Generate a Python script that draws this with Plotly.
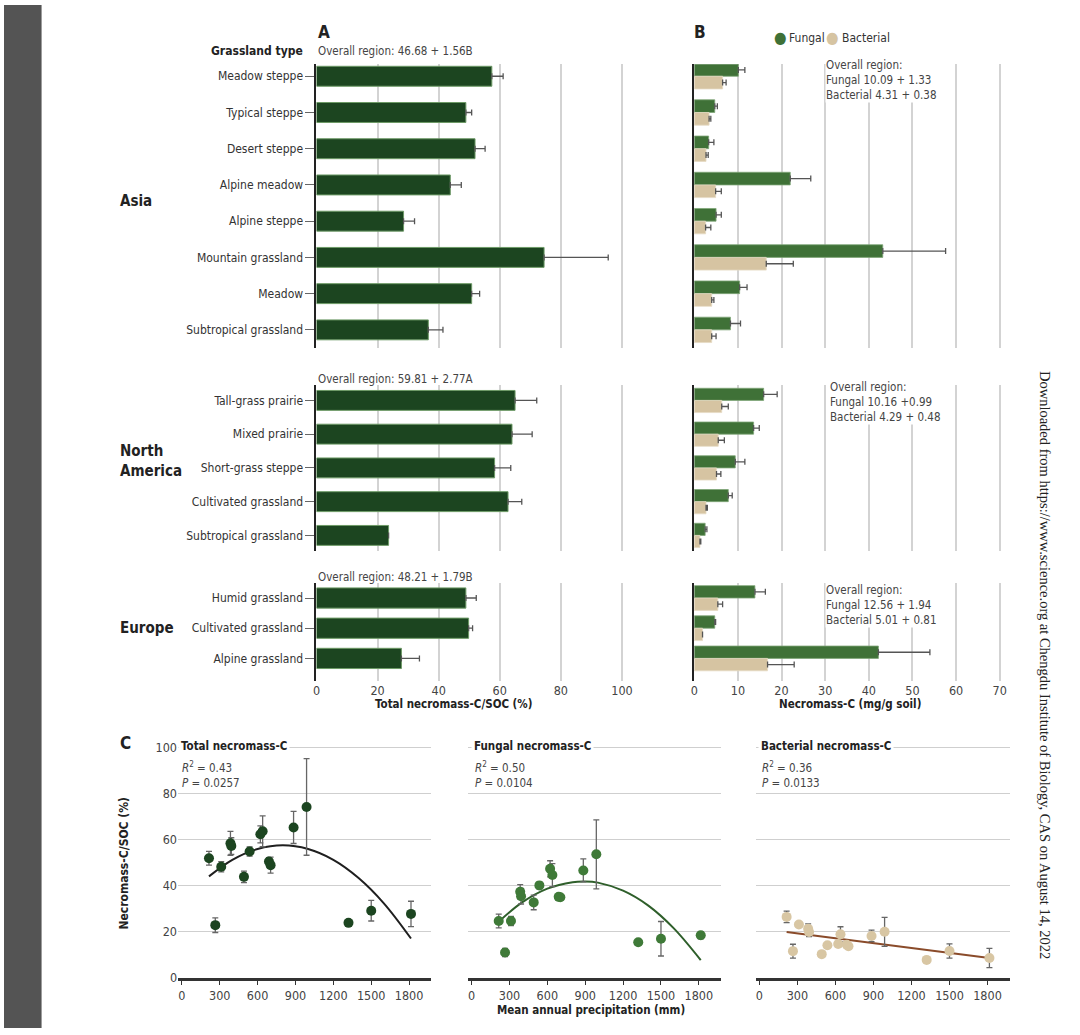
import plotly.graph_objects as go

W, H = 1080, 1035
def fx(p): return p / W
def fy(p): return 1 - p / H

FONT = "DejaVu Sans Condensed, Liberation Sans Narrow, Roboto, sans-serif"

# ---------------- Data ----------------
asia_types = ["Meadow steppe", "Typical steppe", "Desert steppe", "Alpine meadow",
              "Alpine steppe", "Mountain grassland", "Meadow", "Subtropical grassland"]
asia_ratio = [57.4, 48.9, 51.9, 43.8, 28.5, 74.5, 50.8, 36.6]
asia_ratio_err = [3.7, 1.9, 3.3, 3.6, 3.6, 21.0, 2.6, 4.8]
asia_fungal = [10.1, 4.7, 3.3, 22.0, 5.0, 43.2, 10.4, 8.3]
asia_fungal_err = [1.5, 0.6, 1.2, 4.7, 1.2, 14.4, 1.7, 2.3]
asia_bacterial = [6.5, 3.4, 2.7, 4.9, 2.6, 16.5, 4.0, 4.0]
asia_bacterial_err = [0.8, 0.4, 0.5, 1.3, 1.2, 6.2, 0.5, 1.0]

na_types = ["Tall-grass prairie", "Mixed prairie", "Short-grass steppe",
            "Cultivated grassland", "Subtropical grassland"]
na_ratio = [65.0, 64.0, 58.3, 62.7, 23.6]
na_ratio_err = [7.1, 6.6, 5.3, 4.5, None]
na_fungal = [15.9, 13.6, 9.4, 7.8, 2.5]
na_fungal_err = [3.1, 1.3, 2.2, 0.9, 0.4]
na_bacterial = [6.3, 5.5, 5.1, 2.7, 1.3]
na_bacterial_err = [1.5, 1.4, 1.0, 0.3, 0.2]

eu_types = ["Humid grassland", "Cultivated grassland", "Alpine grassland"]
eu_ratio = [48.9, 49.8, 27.8]
eu_ratio_err = [3.4, 1.3, 5.9]
eu_fungal = [13.9, 4.7, 42.2]
eu_fungal_err = [2.4, 0.2, 11.8]
eu_bacterial = [5.4, 1.9, 16.8]
eu_bacterial_err = [1.1, None, 6.1]

overall_a = ["Overall region: 46.68 + 1.56B", "Overall region: 59.81 + 2.77A",
             "Overall region: 48.21 + 1.79B"]
overall_b = ["Overall region:<br>Fungal 10.09 + 1.33<br>Bacterial 4.31 + 0.38",
             "Overall region:<br>Fungal 10.16 +0.99<br>Bacterial 4.29 + 0.48",
             "Overall region:<br>Fungal 12.56 + 1.94<br>Bacterial 5.01 + 0.81"]

map_mm = [215, 265, 312, 385, 392, 492, 537, 622, 640, 690, 703, 885, 988, 1320, 1500, 1815]
total_c = [51.9, 22.8, 48.2, 58.4, 57.2, 43.8, 54.8, 62.3, 63.6, 50.5, 48.9, 65.3, 74.2, 23.8, 29.1, 27.7]
total_c_err = [3.0, 3.2, 2.2, 5.2, 3.6, 2.5, 2.0, 3.7, 6.7, 1.7, 3.5, 7.0, 21.0, None, 4.5, 5.5]
fungal_c = [24.6, 10.9, 24.6, 37.3, 35.4, 32.7, 40.1, 47.3, 44.6, 35.1, 34.9, 46.6, 53.6, 15.4, 16.9, 18.4]
fungal_c_err = [3.0, 1.8, 2.0, 3.1, 3.4, 3.2, 1.5, 3.5, 5.0, 0.5, 0.5, 5.0, 15.0, None, 7.5, 1.6]
bacterial_c = [26.4, 11.5, 23.1, 21.2, 19.8, 10.2, 14.1, 14.6, 18.8, 14.3, 13.6, 18.1, 19.9, 7.7, 11.6, 8.5]
bacterial_c_err = [2.5, 3.0, 1.0, 2.2, 2.0, 0.5, None, 1.0, 3.3, 1.0, 1.0, 2.5, 6.3, None, 3.1, 4.2]

total_fit_x = [215, 400, 600, 800, 1000, 1200, 1400, 1600, 1815]
total_fit_y = [44.0, 51.2, 55.9, 57.5, 55.9, 51.2, 43.3, 32.3, 17.0]
fungal_fit_x = [215, 400, 600, 800, 900, 1000, 1200, 1400, 1600, 1815]
fungal_fit_y = [24.3, 32.7, 38.7, 41.5, 41.8, 41.3, 37.8, 31.3, 21.5, 7.6]
bact_fit_x = [215, 1815]
bact_fit_y = [19.8, 8.5]

region_names = ["Asia", "North<br>America", "Europe"]

# ---------------- Style ----------------
A_COL = "#1c4520"
FUN_COL = "#3f7137"
BAC_COL = "#d6c4a2"
GRID = "#d3d3d3"
ERR = "#555555"

fig = go.Figure()

sections = [
    (asia_types, asia_ratio, asia_ratio_err, asia_fungal, asia_fungal_err, asia_bacterial, asia_bacterial_err,
     60, 347, [7.5, -0.33], 0.55, 0.35),
    (na_types, na_ratio, na_ratio_err, na_fungal, na_fungal_err, na_bacterial, na_bacterial_err,
     384, 552, [4.45, -0.47], 0.59, 0.36),
    (eu_types, eu_ratio, eu_ratio_err, eu_fungal, eu_fungal_err, eu_bacterial, eu_bacterial_err,
     585, 684, [2.75, -0.49], 0.67, 0.41),
]

layout_axes = {}

def errdict(arr):
    n = len(arr)
    return dict(type="data", array=arr, arrayminus=[0] * n, symmetric=False,
                color=ERR, thickness=1.3, width=3)

for i, (types, ratio, rerr, fun, ferr, bac, berr, top, bot, rng, bwa, hwb) in enumerate(sections):
    ia = i + 1
    ib = i + 4
    xa = "x" if ia == 1 else f"x{ia}"
    ya = "y" if ia == 1 else f"y{ia}"
    xb, yb = f"x{ib}", f"y{ib}"
    last = (i == 2)

    fig.add_trace(go.Bar(x=ratio, y=types, orientation="h", width=bwa,
                         marker=dict(color=A_COL, line=dict(color="#6d9a66", width=1)),
                         error_x=errdict(rerr), xaxis=xa, yaxis=ya, showlegend=False))
    fig.add_trace(go.Bar(x=fun, y=types, orientation="h", width=hwb, offset=-hwb,
                         marker=dict(color=FUN_COL, line=dict(color="#7fa677", width=0.8)),
                         error_x=errdict(ferr), xaxis=xb, yaxis=yb, showlegend=False))
    fig.add_trace(go.Bar(x=bac, y=types, orientation="h", width=hwb, offset=0,
                         marker=dict(color=BAC_COL, line=dict(color="#e6dac4", width=0.8)),
                         error_x=errdict(berr), xaxis=xb, yaxis=yb, showlegend=False))

    dom_y = [fy(bot), fy(top)]
    key_xa = "xaxis" if ia == 1 else f"xaxis{ia}"
    key_ya = "yaxis" if ia == 1 else f"yaxis{ia}"
    layout_axes[key_xa] = dict(domain=[fx(316), fx(628)], range=[0, 101], anchor=ya,
                               showgrid=True, gridcolor=GRID, gridwidth=1.5, dtick=20, tick0=0,
                               zeroline=False, showline=False, showticklabels=last,
                               ticks="", tickfont=dict(size=12.5, color="#444", family=FONT))
    layout_axes[key_ya] = dict(domain=dom_y, type="category", categoryorder="array",
                               categoryarray=types, range=rng, anchor=xa,
                               showline=True, linecolor="#222", linewidth=2,
                               ticks="outside", ticklen=9, tickcolor="#666", tickwidth=1,
                               showgrid=False, tickfont=dict(size=12, color="#333", family=FONT))
    layout_axes[f"xaxis{ib}"] = dict(domain=[fx(698), fx(1010)], range=[0, 70.7], anchor=yb,
                                     showgrid=True, gridcolor=GRID, gridwidth=1.5, dtick=10, tick0=0,
                                     zeroline=False, showline=False, showticklabels=last,
                                     ticks="", tickfont=dict(size=12.5, color="#444", family=FONT))
    layout_axes[f"yaxis{ib}"] = dict(domain=dom_y, type="category", categoryorder="array",
                                     categoryarray=types, range=rng, anchor=xb,
                                     showline=True, linecolor="#222", linewidth=2,
                                     showticklabels=False, ticks="", showgrid=False)

# ---------------- Panel C ----------------
c_specs = [
    (total_c, total_c_err, "#1c4520", total_fit_x, total_fit_y, "#1f1f1f", 176, 432),
    (fungal_c, fungal_c_err, "#3f7a38", fungal_fit_x, fungal_fit_y, "#2f5f2b", 469, 725),
    (bacterial_c, bacterial_c_err, "#d8c6a3", bact_fit_x, bact_fit_y, "#8a4b2a", 760, 1017),
]
for j, (vals, errs, mcol, fx_, fy_, lcol, x0, x1) in enumerate(c_specs):
    k = j + 7
    xk, yk = f"x{k}", f"y{k}"
    fig.add_trace(go.Scatter(x=fx_, y=fy_, mode="lines", line=dict(color=lcol, width=2, shape="spline"),
                             xaxis=xk, yaxis=yk, showlegend=False, hoverinfo="skip"))
    fig.add_trace(go.Scatter(x=map_mm, y=vals, mode="markers",
                             marker=dict(color=mcol, size=10),
                             error_y=dict(type="data", array=errs, color="#666", thickness=1.3, width=3),
                             xaxis=xk, yaxis=yk, showlegend=False))
    layout_axes[f"xaxis{k}"] = dict(domain=[fx(x0), fx(x1)], range=[-30, 1975], anchor=yk,
                                    tickvals=[0, 300, 600, 900, 1200, 1500, 1800],
                                    showline=True, linecolor="#333", linewidth=2.5,
                                    ticks="outside", ticklen=5, tickcolor="#333", tickwidth=1,
                                    showgrid=False, zeroline=False,
                                    tickfont=dict(size=12.5, color="#444", family=FONT))
    layout_axes[f"yaxis{k}"] = dict(domain=[fy(984), fy(749)], range=[0, 101], anchor=xk,
                                    dtick=20, tick0=0, showgrid=True, gridcolor="#cfcfcf", gridwidth=1,
                                    zeroline=False, showline=False, showticklabels=(j == 0),
                                    ticks="", tickfont=dict(size=12.5, color="#444", family=FONT))

# ---------------- Annotations ----------------
ann = []
def text(x, y, s, size=13, bold=False, color="#333", xanchor="left", yanchor="middle", **kw):
    if bold:
        s = f"<b>{s}</b>"
    fam = kw.pop("family", FONT)
    ann.append(dict(x=fx(x), y=fy(y), xref="paper", yref="paper", text=s, showarrow=False,
                    xanchor=xanchor, yanchor=yanchor,
                    font=dict(size=size, color=color, family=fam), **kw))

text(316, 27, "A", size=17, bold=True, color="#222")
text(696, 27, "B", size=17, bold=True, color="#222")
text(115, 747, "C", size=17, bold=True, color="#222")
text(304, 47, "Grassland type", size=12, bold=True, color="#222", xanchor="right")
text(316, 47, overall_a[0], size=11.5, color="#444")
text(316, 378, overall_a[1], size=11.5, color="#444")
text(316, 579, overall_a[2], size=11.5, color="#444")

text(115, 198, region_names[0], size=15, bold=True, color="#222")
text(115, 461, region_names[1], size=15, bold=True, color="#222", align="left")
text(115, 630, region_names[2], size=15, bold=True, color="#222")

# legend for B
text(785, 33, "●", size=16, color=FUN_COL, xanchor="center")
text(792, 33, "Fungal", size=12, color="#333")
text(838, 33, "●", size=16, color=BAC_COL, xanchor="center")
text(845, 33, "Bacterial", size=12, color="#333")

text(830, 76, overall_b[0], size=11.5, color="#444", align="left", bgcolor="white", borderpad=0)
text(834, 402, overall_b[1], size=11.5, color="#444", align="left", bgcolor="white", borderpad=0)
text(830, 607, overall_b[2], size=11.5, color="#444", align="left", bgcolor="white", borderpad=0)

text(455, 707, "Total necromass-C/SOC (%)", size=11.5, bold=True, color="#222", xanchor="center")
text(856, 707, "Necromass-C (mg/g soil)", size=11.5, bold=True, color="#222", xanchor="center")

c_titles = ["Total necromass-C", "Fungal necromass-C", "Bacterial necromass-C"]
c_stats = [("0.43", "0.0257"), ("0.50", "0.0104"), ("0.36", "0.0133")]
c_x = [176, 472, 762]
for t, (r2, p), x in zip(c_titles, c_stats, c_x):
    text(x, 750, t, size=11.5, bold=True, color="#222", bgcolor="white", borderpad=2)
    text(x + 2, 771, f"<i>R</i><sup>2</sup> = {r2}", size=11.5, color="#444")
    text(x + 2, 787, f"<i>P</i> = {p}", size=11.5, color="#444")

text(594, 1017, "Mean annual precipitation (mm)", size=11.5, bold=True, color="#222", xanchor="center")
text(121, 868, "Necromass-C/SOC (%)", size=12, bold=True, color="#222", xanchor="center", textangle=-90)

text(1052, 668, "Downloaded from https://www.science.org at Chengdu Institute of Biology, CAS on August 14, 2022",
     size=14.5, color="#222", xanchor="center", textangle=90, family="Liberation Serif, serif")

fig.update_layout(
    autosize=True, margin=dict(l=0, r=0, t=0, b=0),
    paper_bgcolor="white", plot_bgcolor="white",
    barmode="overlay", showlegend=False,
    font=dict(family=FONT, color="#333"),
    annotations=ann,
    shapes=[dict(type="rect", xref="paper", yref="paper", x0=0, x1=fx(38), y0=0, y1=1,
                 fillcolor="#545454", line=dict(width=0), layer="below")],
    **layout_axes,
)

fig.write_html("out.html", default_width="100vw", default_height="100vh",
               config={"displayModeBar": False, "responsive": True},
               post_script="document.body.style.margin='0';document.body.style.overflow='hidden';")
